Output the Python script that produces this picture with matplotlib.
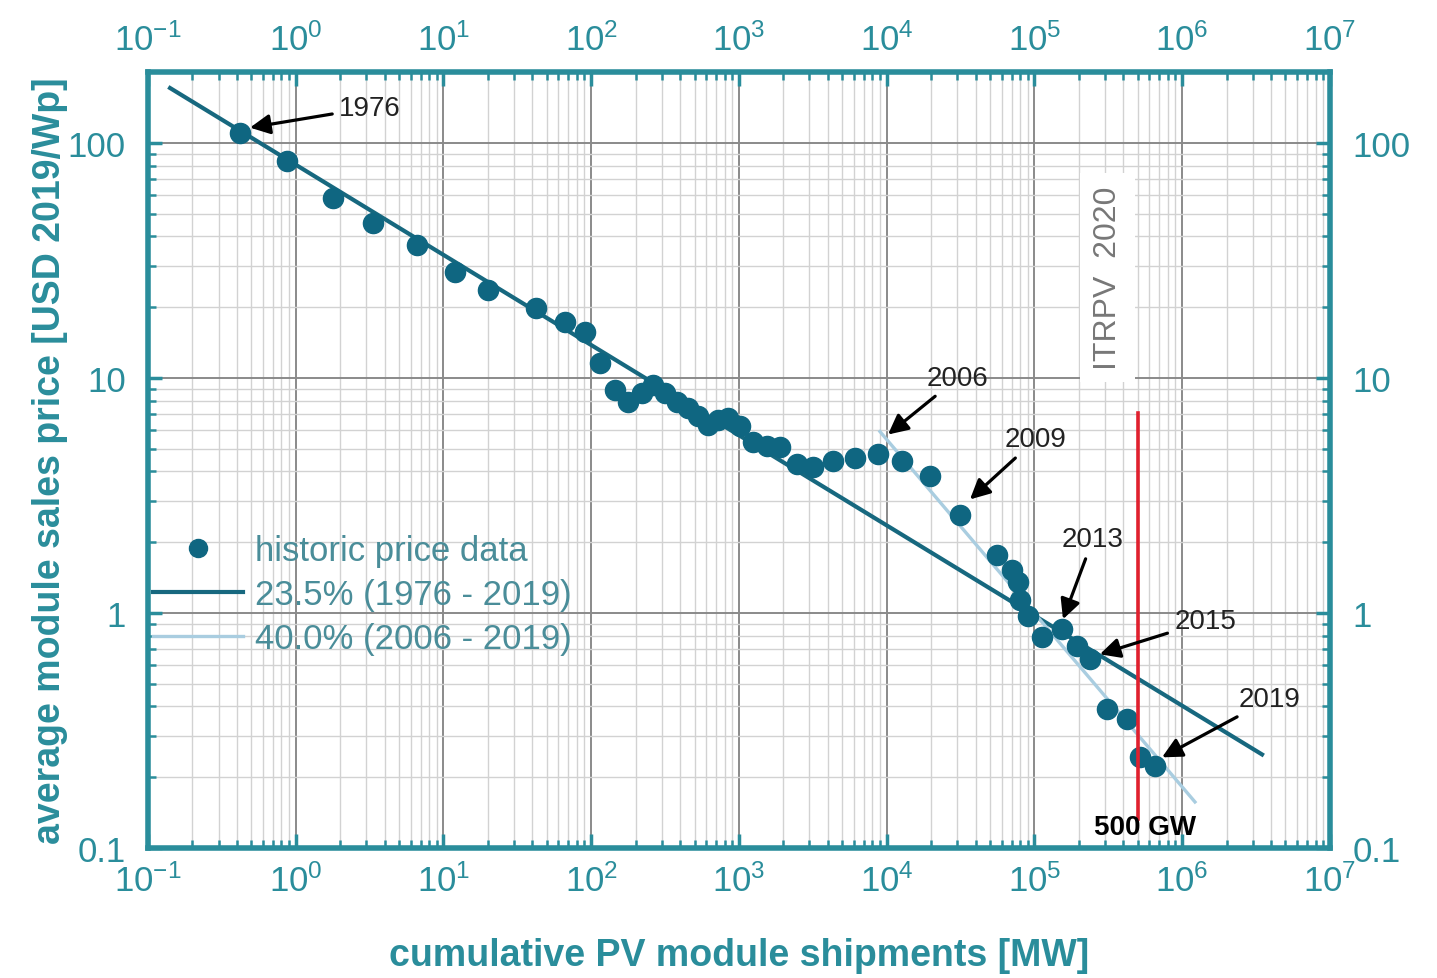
import numpy as np
from matplotlib import pyplot as plt
from matplotlib.ticker import FixedLocator, LogLocator, NullFormatter

plt.rcParams['font.family'] = ['Liberation Sans', 'DejaVu Sans']
plt.rcParams['mathtext.default'] = 'regular'

TEAL = '#2a8d9b'
DOT = '#0f6681'
FIT_ALL = '#17687f'
FIT_RECENT = '#a9cde0'

# historic price data (cumulative shipments in MW, price in USD 2019/Wp)
shipments = [0.42, 0.87, 1.79, 3.33, 6.62, 12.0, 20.0, 42.3, 66.4, 90.7,
             115, 145, 177, 220, 262, 315, 380, 452, 527, 617,
             721, 843, 1016, 1244, 1549, 1893, 2470, 3170, 4330, 6100,
             8730, 12680, 19630, 31300, 55700, 70400, 77300, 79800, 90300, 112400,
             153500, 194000, 237700, 309700, 423000, 517000, 653000]
prices = [110, 83.8, 58.4, 45.7, 36.9, 28.3, 23.7, 19.9, 17.3, 15.6,
          11.6, 8.9, 7.9, 8.66, 9.37, 8.66, 7.93, 7.48, 6.85, 6.33,
          6.65, 6.78, 6.21, 5.31, 5.11, 5.06, 4.28, 4.16, 4.41, 4.54,
          4.76, 4.41, 3.81, 2.62, 1.77, 1.53, 1.36, 1.14, 0.967, 0.787,
          0.851, 0.721, 0.635, 0.389, 0.353, 0.245, 0.223]

# learning curve fits (end points)
fit_all_x = [0.141, 3.47e6]
fit_all_y = [171, 0.25]
fit_recent_x = [9000, 1.22e6]
fit_recent_y = [5.91, 0.157]

# 500 GW marker
mark_x = 5e5
mark_y = [0.133, 7.12]

# year annotations: label, text position, arrow tip
years = ['1976', '2006', '2009', '2013', '2015', '2019']
text_pos = [(3.18, 141), (30300, 10.0), (102000, 5.47), (249000, 2.06), (1.43e6, 0.92), (3.93e6, 0.43)]
tip_pos = [(0.49, 116), (10200, 5.74), (36600, 3.04), (156000, 0.94), (277000, 0.667), (730000, 0.243)]

x_ticks = [1e-1, 1e0, 1e1, 1e2, 1e3, 1e4, 1e5, 1e6, 1e7]
y_ticks = [0.1, 1, 10, 100]

fig = plt.figure(figsize=(14.37, 9.79), dpi=100)
ax = fig.add_axes([0.103, 0.1328, 0.8225, 0.7926])
ax.set_xscale('log')
ax.set_yscale('log')
ax.set_xlim(1e-1, 1e7)
ax.set_ylim(0.1, 200)

ax.xaxis.set_major_locator(FixedLocator(x_ticks))
ax.yaxis.set_major_locator(FixedLocator(y_ticks))
minor_x = [m * d for d in x_ticks[:-1] for m in range(2, 10)]
minor_y = [m * d for d in y_ticks for m in range(2, 10) if m * d <= 200]
ax.xaxis.set_minor_locator(FixedLocator(minor_x))
ax.yaxis.set_minor_locator(FixedLocator(minor_y))
ax.xaxis.set_minor_formatter(NullFormatter())
ax.yaxis.set_minor_formatter(NullFormatter())
ax.xaxis.set_major_formatter(plt.FuncFormatter(lambda v, p: f'$10^{{{int(round(np.log10(v)))}}}$'))
ax.yaxis.set_major_formatter(plt.FuncFormatter(lambda v, p: f'{v:g}'))

ax.grid(which='major', color='#8a8a8a', lw=1.4)
ax.grid(which='minor', color='#d2d2d2', lw=1.0)
ax.set_axisbelow(True)

ax.plot(fit_all_x, fit_all_y, color=FIT_ALL, lw=3.0, zorder=3, label='23.5% (1976 - 2019)')
ax.plot(fit_recent_x, fit_recent_y, color=FIT_RECENT, lw=2.4, zorder=4, label='40.0% (2006 - 2019)')
ax.plot(shipments, prices, 'o', color=DOT, ms=14.5, zorder=5, label='historic price data')

ax.plot([mark_x, mark_x], mark_y, color='#e0202e', lw=2.6, zorder=6)
ax.text(5.6e5, 0.123, '500 GW', fontsize=20, fontweight='bold', color='black',
        ha='center', va='center', zorder=7)

ax.text(3.14e5, 26.7, 'ITRPV  2020', rotation=90, fontsize=23, color='#777777',
        ha='center', va='center', zorder=7,
        bbox=dict(facecolor='white', edgecolor='none', pad=9))

for label, tp, tip in zip(years, text_pos, tip_pos):
    ax.annotate(label, xy=tip, xytext=tp, fontsize=20, color='#222222',
                ha='center', va='center', zorder=8,
                arrowprops=dict(arrowstyle='-|>', color='black', lw=2.3,
                                mutation_scale=30, shrinkA=3, shrinkB=0))

handles, labels = ax.get_legend_handles_labels()
order = [2, 0, 1]
leg = ax.legend([handles[i] for i in order], [labels[i] for i in order],
                loc='upper left', bbox_to_anchor=(0.004, 0.405), frameon=False,
                fontsize=25, handlelength=2.6, handletextpad=0.35, labelspacing=0.32,
                borderaxespad=0, borderpad=0)
for t in leg.get_texts():
    t.set_color('#4a8d99')
leg.legend_handles[0].set_markersize(13)

ax.tick_params(which='both', direction='in', top=True, right=True,
               labeltop=True, labelright=True, color=TEAL, labelcolor=TEAL)
ax.tick_params(which='major', length=10, width=2.5, labelsize=25, pad=11)
ax.tick_params(axis='y', which='major', pad=16)
ax.tick_params(which='minor', length=6, width=1.8)

for sp in ax.spines.values():
    sp.set_color(TEAL)
    sp.set_linewidth(4)

ax.set_xlabel('cumulative PV module shipments [MW]', fontsize=27, fontweight='bold',
              color=TEAL, labelpad=28)
ax.set_ylabel('average module sales price [USD 2019/Wp]', fontsize=27, fontweight='bold',
              color=TEAL, labelpad=0)

fig.savefig('out.png', dpi=100)
